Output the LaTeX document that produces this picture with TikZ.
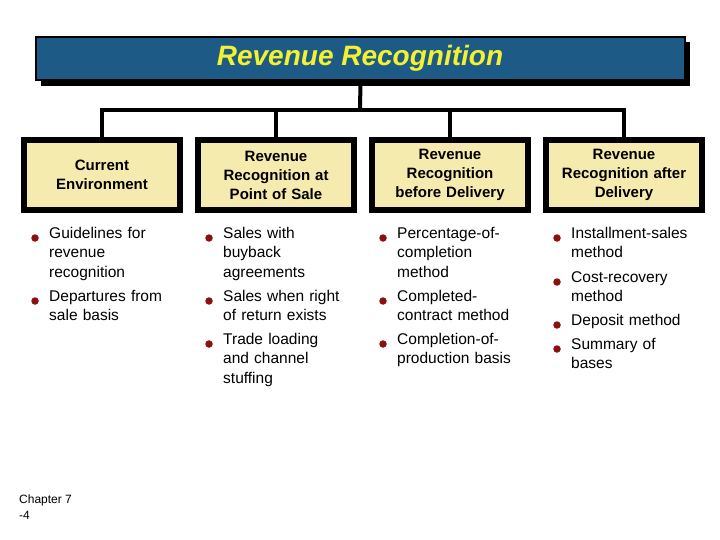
\documentclass[tikz,border=0pt]{standalone}
\usepackage{fontspec}
\setmainfont{Liberation Sans}
\begin{document}
\begin{tikzpicture}[x=1pt,y=-1pt,
  cat/.style={draw=black,line width=6pt,fill=catfill,minimum width=154pt,minimum height=70pt,align=center,font=\bfseries\fontsize{15}{19}\selectfont,text width=150pt},
  conn/.style={line width=4pt},
  item/.style={anchor=north west,align=left,text width=135pt,font=\fontsize{15.5}{19.5}\selectfont,inner sep=0pt},
  dot/.style={circle,fill=bulletred,inner sep=0pt,minimum size=7.5pt}]
\definecolor{catfill}{HTML}{F6EBAE}
\definecolor{banner}{HTML}{1E5A86}
\definecolor{bulletred}{HTML}{8B1010}
\definecolor{titleyellow}{HTML}{F2F230}
\useasboundingbox (0,0) rectangle (720,540);
\fill[black] (41,42) rectangle (690,86);
\node[draw=black,line width=1.5pt,fill=banner,minimum width=649pt,minimum height=43pt,inner sep=0pt] (title) at (360.5,58.5) {};
\node[text=titleyellow,font=\bfseries\itshape\fontsize{28}{30}\selectfont] (tt) at (360,58) {Revenue Recognition};
\node[cat] (c1) at (102,175) {Current\\Environment};
\node[cat] (c2) at (276,175) {Revenue\\Recognition at\\Point of Sale};
\node[cat] (c3) at (450,175) {Revenue\\Recognition\\before Delivery};
\node[cat] (c4) at (624,175) {Revenue\\Recognition after\\Delivery};
\coordinate (j) at (360,110);
\draw[conn] (title.south) -- (j);
\draw[conn] (c1.north) |- (j) -| (c4.north);
\draw[conn] (c2.north) -- (c2.north |- j);
\draw[conn] (c3.north) -- (c3.north |- j);
% column 1
\node[item] (a1) at (49,227) {Guidelines for\\revenue\\recognition};
\node[item] (a2) at (49,290) {Departures from\\sale basis};
% column 2
\node[item] (b1) at (223,227) {Sales with\\buyback\\agreements};
\node[item] (b2) at (223,290) {Sales when right\\of return exists};
\node[item] (b3) at (223,333) {Trade loading\\and channel\\stuffing};
% column 3
\node[item] (d1) at (397,227) {Percentage-of-\\completion\\method};
\node[item] (d2) at (397,290) {Completed-\\contract method};
\node[item] (d3) at (397,333) {Completion-of-\\production basis};
% column 4
\node[item] (e1) at (571,227) {Installment-sales\\method};
\node[item] (e2) at (571,271) {Cost-recovery\\method};
\node[item] (e3) at (571,314) {Deposit method};
\node[item] (e4) at (571,338) {Summary of\\bases};
\foreach \n in {a1,a2,b1,b2,b3,d1,d2,d3,e1,e2,e3,e4}{
  \node[dot] at ([xshift=-14pt,yshift=-11pt]\n.north west) {};
}
\node[anchor=north west,align=left,font=\fontsize{12}{16}\selectfont,inner sep=0pt] (ch) at (19,495) {Chapter 7\\-4};
\end{tikzpicture}
\end{document}
